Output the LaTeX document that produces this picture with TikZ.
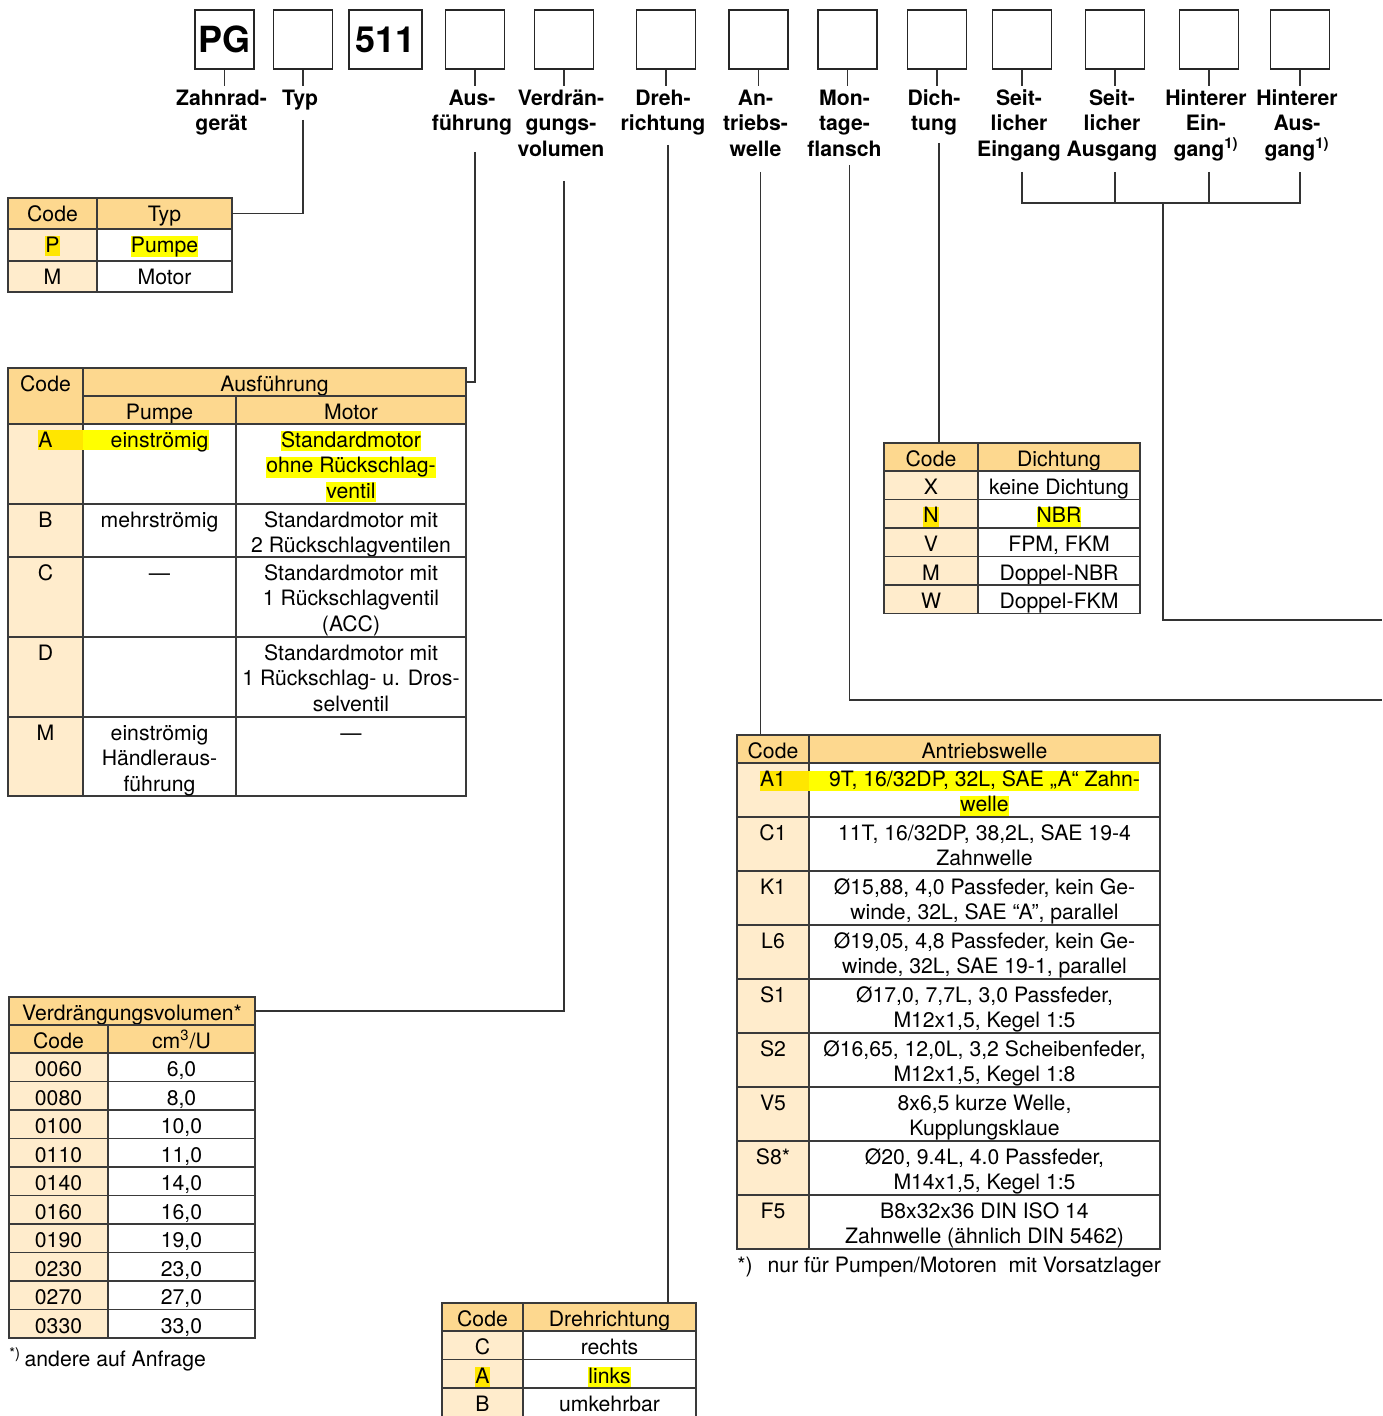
\documentclass[tikz,border=0pt]{standalone}
\usepackage{fontspec}
\setmainfont{TeX Gyre Heros}
\usetikzlibrary{positioning}
\definecolor{hdrfill}{HTML}{FDD88F}
\definecolor{codefill}{HTML}{FFECCC}
\definecolor{hlyellow}{HTML}{FFFF00}
\definecolor{hlcode}{HTML}{FFE600}
\definecolor{gridline}{HTML}{3A3A3A}
\newcommand{\bodyfont}{\fontsize{10.6}{12.7}\selectfont}
\newcommand{\labelfont}{\bfseries\fontsize{10.6}{12.75}\selectfont}
\tikzstyle{fieldbox} = [draw=black!85, line width=0.75pt, minimum height=29.5pt, inner sep=0pt, font=\bfseries\fontsize{18}{18}\selectfont]
\tikzstyle{fieldlabel} = [font=\labelfont, align=center, inner sep=0pt, outer sep=0pt]
\tikzstyle{cellbox} = [draw=gridline, line width=0.75pt, anchor=north west, inner sep=0pt, outer sep=0pt]
\tikzstyle{celltext} = [font=\bodyfont, align=center, inner sep=0pt, outer sep=0pt, anchor=north]
\tikzstyle{conn} = [draw=black!80, line width=0.6pt]
\newcommand{\hl}[1]{{\setlength{\fboxsep}{0pt}\colorbox{hlyellow}{\rule[-2pt]{0pt}{10pt}#1}}}
\newcommand{\hlc}[1]{{\setlength{\fboxsep}{0pt}\colorbox{hlcode}{\rule[-2pt]{0pt}{10pt}#1}}}
% one table cell: name, x1, y1, x2, y2, fill, text
\newcommand{\cell}[7]{
  \node[cellbox, fill=#6, minimum width={(#4-#2)*0.5pt}, minimum height={(#5-#3)*0.5pt}] (#1) at (#2,#3) {};
  \node[celltext] (#1t) at ({(#2+#4)/2},#3) {\rule{0pt}{11.75pt}#7};
}
% code cell + text cell: name, x1, x2, x3, y1, y2, code, text
\newcommand{\pair}[8]{
  \cell{#1c}{#2}{#5}{#3}{#6}{codefill}{#7}
  \cell{#1}{#3}{#5}{#4}{#6}{white}{#8}
}
% field of the type code: name, x centre, width, box text, label
\newcommand{\field}[5]{
  \node[fieldbox, minimum width=#3] (b#1) at (#2,39.5) {#4};
  \node[fieldlabel, below=8pt of b#1, xshift=-1.5pt] (l#1) {\rule{0pt}{9.8pt}#5};
  \draw[conn] (b#1.south) -- (b#1.south |- l#1.north);
}

\begin{document}
\begin{tikzpicture}[x=0.5pt, y=-0.5pt]
  \useasboundingbox (0,0) rectangle (1382,1416);

  % type code
  \field{PG}{224.5}{29.5pt}{PG}{Zahnrad-\\gerät}
  \field{Typ}{303}{29.5pt}{}{Typ}
  \node[fieldbox, minimum width=36.5pt] (b511) at (385.5,39.5) {511};
  \field{Aus}{475}{29.5pt}{}{Aus-\\führung}
  \field{Verd}{564}{29.5pt}{}{Verdrän-\\gungs-\\volumen}
  \field{Dreh}{666}{29.5pt}{}{Dreh-\\richtung}
  \field{Antr}{758.5}{29.5pt}{}{An-\\triebs-\\welle}
  \field{Mont}{847.5}{29.5pt}{}{Mon-\\tage-\\flansch}
  \field{Dicht}{937}{29.5pt}{}{Dich-\\tung}
  \field{SeitE}{1022}{29.5pt}{}{Seit-\\licher\\Eingang}
  \field{SeitA}{1115}{29.5pt}{}{Seit-\\licher\\Ausgang}
  \field{HintE}{1209}{29.5pt}{}{Hinterer\\Ein-\\gang\textsuperscript{1)}}
  \field{HintA}{1300}{29.5pt}{}{Hinterer\\Aus-\\gang\textsuperscript{1)}}

  % Typ
  \cell{tTypC}{8}{198}{97}{229}{hdrfill}{Code}
  \cell{tTypH}{97}{198}{232}{229}{hdrfill}{Typ}
  \pair{tTypP}{8}{97}{232}{229}{261}{\hlc{P}}{\hl{Pumpe}}
  \pair{tTypM}{8}{97}{232}{261}{292}{M}{Motor}

  % Ausfuehrung
  \cell{tAusC}{8}{368}{83}{424}{hdrfill}{Code}
  \cell{tAusH}{83}{368}{466}{396}{hdrfill}{Ausführung}
  \cell{tAusP}{83}{396}{236}{424}{hdrfill}{Pumpe}
  \cell{tAusM}{236}{396}{466}{424}{hdrfill}{Motor}
  \cell{tAusA}{8}{424}{83}{504}{codefill}{}
  \cell{tAusAp}{83}{424}{236}{504}{white}{}
  \cell{tAusAm}{236}{424}{466}{504}{white}{\hl{Standardmotor}\\\hl{ohne Rückschlag-}\\\hl{ventil}}
  \fill[hlcode] (38,430.5) rectangle (83,450.5);
  \fill[hlyellow] (83,430.5) rectangle (209,450.5);
  \node[celltext] (tAusAx) at (45.5,424) {\rule{0pt}{11.75pt}A};
  \node[celltext] (tAusApx) at (159.5,424) {\rule{0pt}{11.75pt}einströmig};
  \cell{tAusB}{8}{504}{83}{557}{codefill}{B}
  \cell{tAusBp}{83}{504}{236}{557}{white}{mehrströmig}
  \cell{tAusBm}{236}{504}{466}{557}{white}{Standardmotor mit\\2 Rückschlagventilen}
  \cell{tAusCc}{8}{557}{83}{637}{codefill}{C}
  \cell{tAusCp}{83}{557}{236}{637}{white}{—}
  \cell{tAusCm}{236}{557}{466}{637}{white}{Standardmotor mit\\1 Rückschlagventil\\(ACC)}
  \cell{tAusD}{8}{637}{83}{717}{codefill}{D}
  \cell{tAusDp}{83}{637}{236}{717}{white}{}
  \cell{tAusDm}{236}{637}{466}{717}{white}{Standardmotor mit\\1 Rückschlag- u. Dros-\\selventil}
  \cell{tAusMc}{8}{717}{83}{796}{codefill}{M}
  \cell{tAusMp}{83}{717}{236}{796}{white}{einströmig\\Händleraus-\\führung}
  \cell{tAusMm}{236}{717}{466}{796}{white}{—}

  % Verdraengungsvolumen
  \cell{tVerH}{9}{997}{255}{1025}{hdrfill}{Verdrängungsvolumen*}
  \cell{tVerC}{9}{1025}{108}{1053}{hdrfill}{Code}
  \cell{tVerU}{108}{1025}{255}{1053}{hdrfill}{cm\textsuperscript{3}/U}
  \pair{tVer1}{9}{108}{255}{1053}{1081.5}{0060}{6,0}
  \pair{tVer2}{9}{108}{255}{1081.5}{1110}{0080}{8,0}
  \pair{tVer3}{9}{108}{255}{1110}{1138.5}{0100}{10,0}
  \pair{tVer4}{9}{108}{255}{1138.5}{1167}{0110}{11,0}
  \pair{tVer5}{9}{108}{255}{1167}{1195.5}{0140}{14,0}
  \pair{tVer6}{9}{108}{255}{1195.5}{1224}{0160}{16,0}
  \pair{tVer7}{9}{108}{255}{1224}{1252.5}{0190}{19,0}
  \pair{tVer8}{9}{108}{255}{1252.5}{1281}{0230}{23,0}
  \pair{tVer9}{9}{108}{255}{1281}{1309.5}{0270}{27,0}
  \pair{tVer10}{9}{108}{255}{1309.5}{1338}{0330}{33,0}
  \node[font=\bodyfont, anchor=base west, inner sep=0pt] (fnVer) at (9,1366) {\textsuperscript{*)}\,andere auf Anfrage};

  % Drehrichtung
  \cell{tDrehC}{442}{1303}{523}{1331}{hdrfill}{Code}
  \cell{tDrehH}{523}{1303}{696}{1331}{hdrfill}{Drehrichtung}
  \pair{tDrehR}{442}{523}{696}{1331}{1359.5}{C}{rechts}
  \pair{tDrehL}{442}{523}{696}{1359.5}{1388}{\hlc{A}}{\hl{links}}
  \pair{tDrehU}{442}{523}{696}{1388}{1416.5}{B}{umkehrbar}

  % Antriebswelle
  \cell{tAntC}{737}{735}{809}{763}{hdrfill}{Code}
  \cell{tAntH}{809}{735}{1160}{763}{hdrfill}{Antriebswelle}
  \cell{tAntA}{737}{763}{809}{817}{codefill}{}
  \cell{tAntAw}{809}{763}{1160}{817}{white}{}
  \fill[hlcode] (760,770.5) rectangle (809,790.5);
  \fill[hlyellow] (809,770.5) rectangle (1139,790.5);
  \node[celltext] (tAntAx) at (773,763) {\rule{0pt}{11.75pt}A1};
  \node[celltext] (tAntAwx) at (984.5,763) {\rule{0pt}{11.75pt}9T, 16/32DP, 32L, SAE „A“ Zahn-\\\hl{welle}};
  \pair{tAntC1}{737}{809}{1160}{817}{871}{C1}{11T, 16/32DP, 38,2L, SAE 19-4\\Zahnwelle}
  \pair{tAntK1}{737}{809}{1160}{871}{925}{K1}{Ø15,88, 4,0 Passfeder, kein Ge-\\winde, 32L, SAE “A”, parallel}
  \pair{tAntL6}{737}{809}{1160}{925}{979}{L6}{Ø19,05, 4,8 Passfeder, kein Ge-\\winde, 32L, SAE 19-1, parallel}
  \pair{tAntS1}{737}{809}{1160}{979}{1033}{S1}{Ø17,0, 7,7L, 3,0 Passfeder,\\M12x1,5, Kegel 1:5}
  \pair{tAntS2}{737}{809}{1160}{1033}{1087}{S2}{Ø16,65, 12,0L, 3,2 Scheibenfeder,\\M12x1,5, Kegel 1:8}
  \pair{tAntV5}{737}{809}{1160}{1087}{1141}{V5}{8x6,5 kurze Welle,\\Kupplungsklaue}
  \pair{tAntS8}{737}{809}{1160}{1141}{1195}{S8*}{Ø20, 9.4L, 4.0 Passfeder,\\M14x1,5, Kegel 1:5}
  \pair{tAntF5}{737}{809}{1160}{1195}{1249}{F5}{B8x32x36 DIN ISO 14\\Zahnwelle (ähnlich DIN 5462)}
  \node[font=\bodyfont, anchor=base west, inner sep=0pt] (fnAnt) at (737,1272) {*)\hspace{7.5pt}nur für Pumpen/Motoren\ \ mit Vorsatzlager};

  % Dichtung
  \cell{tDichtC}{884}{443}{978}{471}{hdrfill}{Code}
  \cell{tDichtH}{978}{443}{1140}{471}{hdrfill}{Dichtung}
  \pair{tDichtX}{884}{978}{1140}{471}{499.5}{X}{keine Dichtung}
  \pair{tDichtN}{884}{978}{1140}{499.5}{528}{\hlc{N}}{\hl{NBR}}
  \pair{tDichtV}{884}{978}{1140}{528}{556.5}{V}{FPM, FKM}
  \pair{tDichtM}{884}{978}{1140}{556.5}{585}{M}{Doppel-NBR}
  \pair{tDichtW}{884}{978}{1140}{585}{613.5}{W}{Doppel-FKM}

  % connectors
  \coordinate (mEnd) at (1382,700);
  \coordinate (bMid) at (1163,203);
  \coordinate (bEnd) at (1382,620);
  \draw[conn] (bTyp.south |- 0,120) |- (tTypH.east);
  \draw[conn] (bAus.south |- 0,152) |- (tAusH.east);
  \draw[conn] (bVerd.south |- 0,181) |- (tVerH.east);
  \draw[conn] ([xshift=1pt]bDreh.south |- 0,145) -- ([xshift=1pt]bDreh.south |- tDrehH.north);
  \draw[conn] ([xshift=1pt]bAntr.south |- 0,172) -- ([xshift=1pt]bAntr.south |- tAntC.north);
  \draw[conn] ([xshift=1pt]bMont.south |- 0,165) |- (mEnd);
  \draw[conn] ([xshift=1pt]bDicht.south |- 0,143) -- ([xshift=1pt]bDicht.south |- tDichtC.north);
  \draw[conn] (bSeitE.south |- 0,172) |- (bHintA.south |- bMid) -- (bHintA.south |- 0,172);
  \draw[conn] (bSeitA.south |- 0,172) -- (bSeitA.south |- bMid);
  \draw[conn] (bHintE.south |- 0,172) -- (bHintE.south |- bMid);
  \draw[conn] (bMid) |- (bEnd);
\end{tikzpicture}
\end{document}
